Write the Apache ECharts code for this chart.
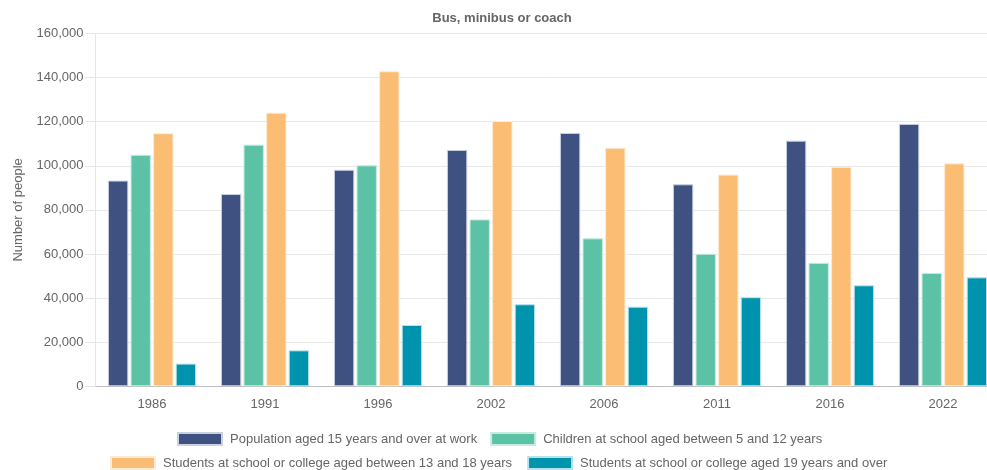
<!DOCTYPE html>
<html>
<head>
<meta charset="utf-8">
<script src="https://cdn.jsdelivr.net/npm/echarts@6/dist/echarts.min.js"></script>
<style>
  html, body { margin: 0; padding: 0; background: #fff; overflow: hidden; }
  #wrap { width: 987px; height: 470px; overflow: hidden; }
  #chart { width: 1000px; height: 470px; }
</style>
</head>
<body>
<div id="wrap"><div id="chart"></div></div>
<script>
// Census years shown on the category axis
const years = ['1986', '1991', '1996', '2002', '2006', '2011', '2016', '2022'];

// Series names
const seriesNames = [
  'Population aged 15 years and over at work',
  'Children at school aged between 5 and 12 years',
  'Students at school or college aged between 13 and 18 years',
  'Students at school or college aged 19 years and over'
];

// People travelling by bus, minibus or coach
const workers      = [93300, 87200, 98200, 107200, 114900, 91600, 111400, 119000];
const children5to12 = [105000, 109600, 100200, 75700, 67100, 60100, 56000, 51400];
const students13to18 = [114800, 124100, 142900, 120300, 108200, 96000, 99500, 101100];
const students19plus = [10300, 16300, 27800, 37200, 36100, 40400, 45800, 49400];

// Y axis
const yMin = 0;
const yMax = 160000;
const yStep = 20000;

const palette = ['#3f5180', '#5cc2a5', '#fbbd73', '#0093ad'];
const borders = ['#c9d0e0', '#c6ece0', '#feebd3', '#b8e2ea'];
const seriesData = [workers, children5to12, students13to18, students19plus];

const chart = echarts.init(document.getElementById('chart'), null, { renderer: 'canvas' });

const textColor = '#666';
const fontFamily = '"Liberation Sans", Arial, Helvetica, sans-serif';
const fontSize = 13;

chart.setOption({
  animation: false,
  textStyle: { fontFamily: fontFamily },
  title: {
    text: 'Bus, minibus or coach',
    left: 497,
    top: 7,
    textAlign: 'center',
    textStyle: { fontSize: fontSize, fontWeight: 'bold', color: textColor, fontFamily: fontFamily }
  },
  legend: [
    {
      data: [seriesNames[0], seriesNames[1]],
      left: 177, top: 432, padding: 0,
      itemWidth: 44, itemHeight: 12, itemGap: 13,
      icon: 'rect',
      textStyle: { fontSize: fontSize, color: textColor, padding: [0, 0, 0, 3] }
    },
    {
      data: [seriesNames[2], seriesNames[3]],
      left: 110, top: 456, padding: 0,
      itemWidth: 44, itemHeight: 12, itemGap: 15,
      icon: 'rect',
      textStyle: { fontSize: fontSize, color: textColor, padding: [0, 0, 0, 3] }
    }
  ],
  grid: { left: 95.5, top: 33.5, right: 0.5, bottom: 83.7, containLabel: false },
  xAxis: {
    type: 'category',
    data: years,
    axisLine: { show: true, lineStyle: { color: '#bdbdbd', width: 1 } },
    axisTick: { show: false },
    axisLabel: { color: textColor, fontSize: fontSize, margin: 12 },
    splitLine: { show: false }
  },
  yAxis: {
    type: 'value',
    min: yMin, max: yMax, interval: yStep,
    name: 'Number of people',
    nameLocation: 'middle',
    nameGap: 71,
    nameTextStyle: { color: textColor, fontSize: fontSize },
    axisLine: { show: true, lineStyle: { color: '#e5e5e5' } },
    axisTick: { show: true, length: 10, lineStyle: { color: '#e5e5e5' } },
    axisLabel: {
      color: textColor, fontSize: fontSize, margin: 12,
      formatter: v => v.toLocaleString('en-US')
    },
    splitLine: { show: true, lineStyle: { color: '#e8e8e8' } }
  },
  series: seriesNames.map((name, i) => ({
    name: name,
    type: 'bar',
    data: seriesData[i],
    barCategoryGap: '22%',
    barGap: '11%',
    itemStyle: { color: palette[i], borderColor: borders[i], borderWidth: 1 }
  }))
});
</script>
</body>
</html>
